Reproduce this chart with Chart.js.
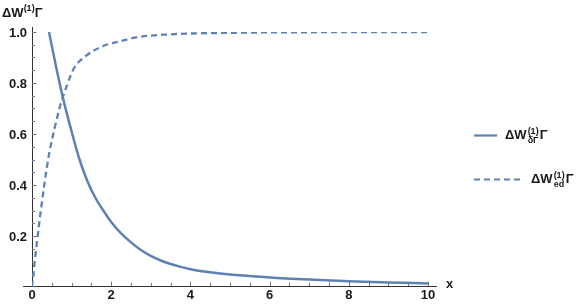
<!DOCTYPE html>
<html>
<head>
<meta charset="utf-8">
<script src="https://cdn.jsdelivr.net/npm/chart.js@4.4.0/dist/chart.umd.min.js"></script>
<style>
  html, body { margin: 0; padding: 0; background: #fff; }
  #wrap { position: relative; width: 588px; height: 307px; overflow: hidden; }
  .lbl { position: absolute; font-family: "Liberation Sans", Arial, sans-serif; font-weight: bold; color: #1a1a1a; white-space: nowrap; }
  .ss { display: inline-flex; flex-direction: column; font-size: 9px; line-height: 9px; vertical-align: 5px; margin: 0 1px; }
  .sup { font-size: 9px; position: relative; top: -6px; }
</style>
</head>
<body>
<div id="wrap">
  <canvas id="chart" width="588" height="307"></canvas>
  <div class="lbl" style="left:2px; top:5px; font-size:13px;">ΔW<span class="sup">(1)</span>Γ</div>
  <div class="lbl" style="left:446px; top:276px; font-size:13px;">x</div>
  <div class="lbl" style="left:505px; top:127px; font-size:13px;">ΔW<span class="ss"><span>(1)</span><span>δΓ</span></span>Γ</div>
  <div class="lbl" style="left:531px; top:171px; font-size:13px;">ΔW<span class="ss"><span>(1)</span><span>ed</span></span>Γ</div>
</div>
<script>
// values
const solidX = [0.43, 0.6, 0.8, 1.0, 1.2, 1.4, 1.6, 1.8, 2.0, 2.25, 2.5, 2.75, 3.0, 3.25, 3.5, 3.75, 4.0, 4.5, 5.0, 5.5, 6.0, 7.0, 8.0, 9.0, 10];
const solidY = [1.0, 0.87, 0.73, 0.61, 0.50, 0.415, 0.35, 0.30, 0.255, 0.21, 0.175, 0.145, 0.122, 0.104, 0.090, 0.079, 0.070, 0.058, 0.049, 0.043, 0.037, 0.029, 0.023, 0.018, 0.014];

const dashX = [0, 0.02, 0.135, 0.31, 0.43, 0.59, 0.71, 0.87, 1.05, 1.35, 1.8, 2.4, 2.6, 3.4, 5.1, 7, 10];
const dashY = [0, 0.03, 0.19, 0.40, 0.52, 0.635, 0.71, 0.785, 0.855, 0.905, 0.945, 0.97, 0.978, 0.99, 0.997, 0.999, 1.0];

const xTicks = [0, 2, 4, 6, 8, 10];
const xTickLabels = ['0', '2', '4', '6', '8', '10'];
const yTicks = [0.2, 0.4, 0.6, 0.8, 1.0];
const yTickLabels = ['0.2', '0.4', '0.6', '0.8', '1.0'];

const lineColor = '#5e81b5';

function toPoints(xs, ys) {
    return xs.map((x, i) => ({ x: x, y: ys[i] }));
}

// Mathematica style axes: inward ticks, bold labels
const axesPlugin = {
    id: 'axes',
    beforeDatasetsDraw(chart) {
        const ctx = chart.ctx;
        const xs = chart.scales.x;
        const ys = chart.scales.y;
        const x0 = xs.getPixelForValue(0);
        const y0 = ys.getPixelForValue(0) - 1;
        ctx.save();
        ctx.strokeStyle = '#333';
        ctx.lineWidth = 1;
        ctx.beginPath();
        ctx.moveTo(23, y0 + 0.5);
        ctx.lineTo(437, y0 + 0.5);
        ctx.moveTo(x0 + 0.5, y0);
        ctx.lineTo(x0 + 0.5, ys.getPixelForValue(1.02));
        ctx.stroke();

        ctx.strokeStyle = '#777';
        ctx.beginPath();
        for (let v = 0.5; v <= 10; v += 0.5) {
            const px = Math.round(xs.getPixelForValue(v)) + 0.5;
            const len = (v % 2 === 0) ? 4.5 : 3;
            ctx.moveTo(px, y0);
            ctx.lineTo(px, y0 - len);
        }
        for (let k = 1; k <= 20; k++) {
            const v = k * 0.05;
            const py = Math.round(ys.getPixelForValue(v)) + 0.5;
            const len = (k % 4 === 0) ? 4.5 : 3;
            ctx.moveTo(x0, py);
            ctx.lineTo(x0 + len, py);
        }
        ctx.stroke();

        ctx.fillStyle = '#1a1a1a';
        ctx.font = 'bold 13px "Liberation Sans", Arial, sans-serif';
        ctx.textAlign = 'center';
        ctx.textBaseline = 'top';
        xTicks.forEach((v, i) => {
            ctx.fillText(xTickLabels[i], xs.getPixelForValue(v), y0 + 3);
        });
        ctx.textAlign = 'right';
        ctx.textBaseline = 'middle';
        yTicks.forEach((v, i) => {
            ctx.fillText(yTickLabels[i], x0 - 5, ys.getPixelForValue(v) + 1);
        });

        // legend samples
        ctx.strokeStyle = lineColor;
        ctx.lineWidth = 2.2;
        ctx.beginPath();
        ctx.moveTo(474, 135.5);
        ctx.lineTo(497, 135.5);
        ctx.stroke();
        ctx.lineWidth = 2;
        ctx.setLineDash([6, 4]);
        ctx.beginPath();
        ctx.moveTo(474, 179.5);
        ctx.lineTo(520, 179.5);
        ctx.stroke();
        ctx.restore();
    }
};

new Chart(document.getElementById('chart').getContext('2d'), {
    type: 'scatter',
    data: {
        datasets: [{
            data: toPoints(solidX, solidY),
            showLine: true,
            borderColor: lineColor,
            borderWidth: 2.5,
            pointRadius: 0,
            cubicInterpolationMode: 'monotone',
        }, {
            data: toPoints(dashX, dashY),
            showLine: true,
            borderColor: lineColor,
            borderWidth: 2.3,
            borderDash: [6, 4],
            pointRadius: 0,
            cubicInterpolationMode: 'monotone',
        }],
    },
    options: {
        responsive: false,
        animation: false,
        devicePixelRatio: 1,
        layout: { padding: { left: 32, right: 160, top: 32, bottom: 20 } },
        plugins: { legend: { display: false }, tooltip: { enabled: false } },
        scales: {
            x: { type: 'linear', min: 0, max: 10, display: false },
            y: { type: 'linear', min: 0, max: 1, display: false },
        },
    },
    plugins: [axesPlugin],
});
</script>
</body>
</html>
